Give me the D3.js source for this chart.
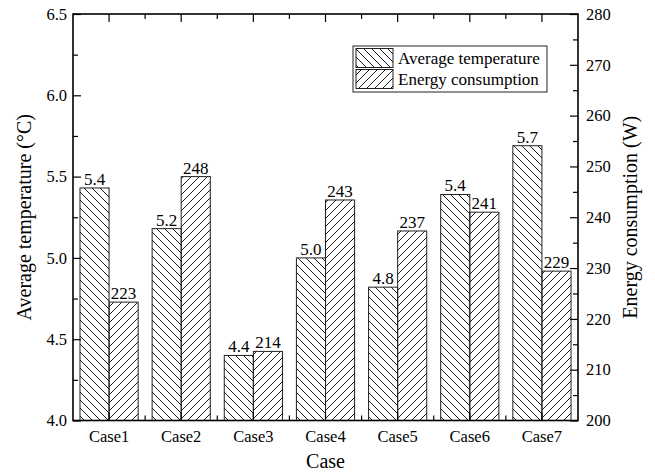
<!DOCTYPE html>
<html>
<head>
<meta charset="utf-8">
<script src="https://cdn.jsdelivr.net/npm/d3@7"></script>
<style>
  body { margin: 0; background: #fff; }
</style>
</head>
<body>
<div id="chart"></div>
<script>
// 数据
const cases = ["Case1", "Case2", "Case3", "Case4", "Case5", "Case6", "Case7"];
const avgTemp = [5.43, 5.18, 4.40, 5.00, 4.82, 5.39, 5.69];
const energy = [223.3, 248.0, 213.6, 243.4, 237.3, 241.0, 229.4];
const tempTicks = [4.0, 4.5, 5.0, 5.5, 6.0, 6.5];
const energyTicks = [200, 210, 220, 230, 240, 250, 260, 270, 280];
const seriesNames = ["Average temperature", "Energy consumption"];

const width = 655, height = 474;
const plotL = 73, plotR = 578, plotT = 14, plotB = 420.5;
const serif = "'Liberation Serif', 'DejaVu Serif', 'Noto Serif', Tinos, 'Nimbus Roman', FreeSerif, serif";

const svg = d3.select("#chart").append("svg")
  .attr("width", width)
  .attr("height", height)
  .style("font-family", serif);

// 斜线图案
const defs = svg.append("defs");
function hatch(id, d) {
  defs.append("pattern")
    .attr("id", id)
    .attr("patternUnits", "userSpaceOnUse")
    .attr("width", 8).attr("height", 8)
    .append("path")
    .attr("d", d)
    .attr("stroke", "#000")
    .attr("stroke-width", 0.9)
    .attr("fill", "none");
}
hatch("back", "M-2,-2 L10,10 M-2,6 L2,10 M6,-2 L10,2");
hatch("fwd", "M-2,10 L10,-2 M-2,2 L2,-2 M6,10 L10,6");

// 比例尺
const x = d3.scaleBand().domain(cases).range([plotL, plotR]).padding(0);
const x1 = d3.scaleBand().domain(["temp", "energy"]).range([0, x.bandwidth()])
  .paddingInner(0).paddingOuter(0.24);
const yL = d3.scaleLinear().domain([4.0, 6.5]).range([plotB, plotT]);
const yR = d3.scaleLinear().domain([200, 280]).range([plotB, plotT]);

// 柱子
const g = svg.append("g");
cases.forEach((c, i) => {
  g.append("rect")
    .attr("x", x(c) + x1("temp"))
    .attr("y", yL(avgTemp[i]))
    .attr("width", x1.bandwidth())
    .attr("height", plotB - yL(avgTemp[i]))
    .attr("fill", "url(#back)")
    .attr("stroke", "#222")
    .attr("stroke-width", 1);
  g.append("rect")
    .attr("x", x(c) + x1("energy"))
    .attr("y", yR(energy[i]))
    .attr("width", x1.bandwidth())
    .attr("height", plotB - yR(energy[i]))
    .attr("fill", "url(#fwd)")
    .attr("stroke", "#222")
    .attr("stroke-width", 1);
  g.append("text")
    .attr("x", x(c) + x1("temp") + x1.bandwidth() / 2)
    .attr("y", yL(avgTemp[i]) - 3)
    .attr("text-anchor", "middle")
    .attr("font-size", 17)
    .text(avgTemp[i].toFixed(1));
  g.append("text")
    .attr("x", x(c) + x1("energy") + x1.bandwidth() / 2)
    .attr("y", yR(energy[i]) - 3)
    .attr("text-anchor", "middle")
    .attr("font-size", 17)
    .text(Math.round(energy[i]));
});

// 坐标轴
const axisColor = "#000";
function styleAxis(sel) {
  sel.attr("font-family", null).attr("font-size", 16.5);
  sel.select(".domain").remove();
  sel.selectAll("line").attr("stroke", axisColor).attr("stroke-width", 1.2);
}

// 左轴
const minorL = d3.range(4.25, 6.5, 0.5);
svg.append("g").attr("transform", `translate(${plotL},0)`)
  .call(d3.axisRight(yL).tickValues(minorL).tickSize(5).tickFormat(""))
  .call(styleAxis);
svg.append("g").attr("transform", `translate(${plotL},0)`)
  .call(d3.axisRight(yL).tickValues(tempTicks).tickSize(8).tickFormat(""))
  .call(styleAxis);
svg.append("g").attr("transform", `translate(${plotL},0)`)
  .call(d3.axisLeft(yL).tickValues(tempTicks).tickSize(0).tickPadding(6).tickFormat(d3.format(".1f")))
  .call(styleAxis);

// 右轴
const minorR = d3.range(205, 280, 10);
svg.append("g").attr("transform", `translate(${plotR},0)`)
  .call(d3.axisLeft(yR).tickValues(minorR).tickSize(5).tickFormat(""))
  .call(styleAxis);
svg.append("g").attr("transform", `translate(${plotR},0)`)
  .call(d3.axisLeft(yR).tickValues(energyTicks).tickSize(8).tickFormat(""))
  .call(styleAxis);
svg.append("g").attr("transform", `translate(${plotR},0)`)
  .call(d3.axisRight(yR).tickValues(energyTicks).tickSize(0).tickPadding(8))
  .call(styleAxis);

// 上下轴刻度
const bounds = cases.slice(1).map(c => x(c));
[[plotT, 1], [plotB, -1]].forEach(([yy, dir]) => {
  svg.append("g").selectAll("line.maj").data(cases).enter().append("line")
    .attr("x1", d => x(d) + x.bandwidth() / 2).attr("x2", d => x(d) + x.bandwidth() / 2)
    .attr("y1", yy).attr("y2", yy + dir * 8)
    .attr("stroke", axisColor).attr("stroke-width", 1.2);
  svg.append("g").selectAll("line.min").data(bounds).enter().append("line")
    .attr("x1", d => d).attr("x2", d => d)
    .attr("y1", yy).attr("y2", yy + dir * 5)
    .attr("stroke", axisColor).attr("stroke-width", 1.2);
});

// 类别标签
svg.append("g").selectAll("text").data(cases).enter().append("text")
  .attr("x", d => x(d) + x.bandwidth() / 2)
  .attr("y", 442)
  .attr("text-anchor", "middle")
  .attr("font-size", 16.5)
  .text(d => d);

// 边框
svg.append("rect")
  .attr("x", plotL).attr("y", plotT)
  .attr("width", plotR - plotL).attr("height", plotB - plotT)
  .attr("fill", "none").attr("stroke", "#000").attr("stroke-width", 1.6);

// 轴标题
svg.append("text")
  .attr("transform", `translate(31,${(plotT + plotB) / 2}) rotate(-90)`)
  .attr("text-anchor", "middle").attr("font-size", 20)
  .text("Average temperature (°C)");
svg.append("text")
  .attr("transform", `translate(637,${(plotT + plotB) / 2}) rotate(-90)`)
  .attr("text-anchor", "middle").attr("font-size", 20)
  .text("Energy consumption (W)");
svg.append("text")
  .attr("x", (plotL + plotR) / 2).attr("y", 468)
  .attr("text-anchor", "middle").attr("font-size", 20)
  .text("Case");

// 图例
const lg = svg.append("g").attr("transform", "translate(353,46)");
lg.append("rect").attr("width", 194).attr("height", 46)
  .attr("fill", "#fff").attr("stroke", "#222").attr("stroke-width", 1);
["back", "fwd"].forEach((p, i) => {
  lg.append("rect")
    .attr("x", 3).attr("y", 2.5 + i * 21)
    .attr("width", 37).attr("height", 19)
    .attr("fill", `url(#${p})`).attr("stroke", "#222").attr("stroke-width", 1);
  lg.append("text")
    .attr("x", 45).attr("y", 17.5 + i * 21)
    .attr("font-size", 17)
    .text(seriesNames[i]);
});
</script>
</body>
</html>
